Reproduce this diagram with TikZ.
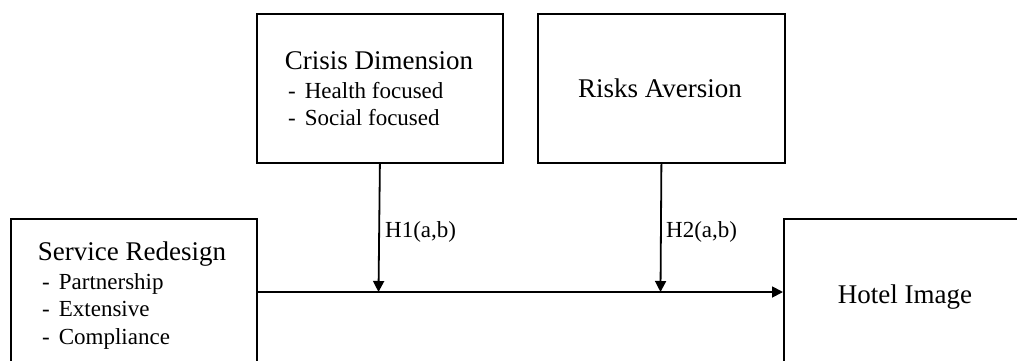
\documentclass[tikz,border=0pt]{standalone}
\usepackage{fontspec}
\setmainfont{Liberation Serif}
\usetikzlibrary{arrows.meta}
\tikzset{
  box/.style={draw=black, line width=1.8pt, inner sep=0pt, anchor=north west},
  title/.style={font=\fontsize{27}{32}\selectfont, inner sep=0pt, anchor=base},
  item/.style={font=\fontsize{23}{27}\selectfont, inner sep=0pt, anchor=base west},
  lab/.style={font=\fontsize{23}{27}\selectfont, inner sep=0pt, anchor=base west},
  conn/.style={line width=1.8pt, -{Triangle[length=11pt,width=11pt]}},
}
\begin{document}
\begin{tikzpicture}[x=1pt,y=-1pt]
\useasboundingbox (0,0) rectangle (1017,361);
\clip (0,0) rectangle (1017,361);
\fill[white] (0,0) rectangle (1017,361);
% boxes
\node[box, minimum width=246pt, minimum height=149pt] (crisis) at (256,13) {};
\node[box, minimum width=247pt, minimum height=149pt] (risks) at (537,13) {};
\node[box, minimum width=246pt, minimum height=180pt] (service) at (10,218) {};
\node[box, minimum width=260pt, minimum height=180pt] (hotel) at (783,218) {};
% texts
\node[title] (tcrisis) at (379,70) {Crisis Dimension};
\node[item] (c1) at (288,98) {-\hspace{9pt}Health focused};
\node[item] (c2) at (288,125.5) {-\hspace{9pt}Social focused};
\node[title] (trisks) at (660,97) {Risks Aversion};
\node[title] (tservice) at (132,260) {Service Redesign};
\node[item] (s1) at (42,289) {-\hspace{9pt}Partnership};
\node[item] (s2) at (42,316.5) {-\hspace{9pt}Extensive};
\node[item] (s3) at (42,344) {-\hspace{9pt}Compliance};
\node[title] (thotel) at (905,303) {Hotel Image};
% junctions
\coordinate (j1) at (378.5,292);
\coordinate (j2) at (660.5,292);
% connectors
\draw[conn] (service.north east |- j1) -- (hotel.west |- j1);
\draw[conn] (crisis.south) -- (j1);
\draw[conn] (risks.south) -- (j2);
\node[lab] (h1) at (385,237) {H1(a,b)};
\node[lab] (h2) at (666,237) {H2(a,b)};
\end{tikzpicture}
\end{document}
